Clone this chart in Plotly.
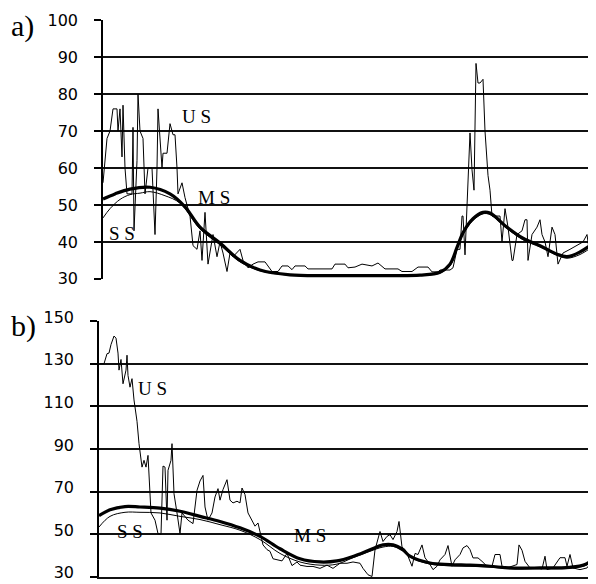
import plotly.graph_objects as go

# ---------------- panel a) ----------------
a_us_t = [0, 2, 3.5, 5, 7, 7.5, 8.5, 9.5, 10, 11, 12, 14.5, 15, 15.5, 17, 17.5, 18.5, 20, 21, 22.5,
          24.5, 25, 26, 27, 27.5, 29.5, 30, 32, 33.5, 35, 36, 37, 37.5, 39.5, 41, 43.5, 45, 47, 48.5, 49.5,
          51, 52.5, 55, 57, 58.5, 60, 62, 63.5, 65, 68.5, 70, 72.5, 75, 77.5, 81, 84.5, 87.5, 89.5, 92.5, 94.5,
          96, 101, 102.5, 107.5, 114.5, 116, 121, 122.5, 126, 129.5, 134.5, 137.5, 141, 147.5, 149.5, 154.5,
          157.5, 162.5, 164.5, 167.5, 168.5, 173.5, 175, 177, 178.5, 179.5, 180, 181, 182.5, 183.5, 184.5,
          185.5, 186.5, 187, 187.5, 188.5, 190, 191, 192.5, 193.5, 194.5, 196, 198.5, 199.5, 201, 202.5,
          204.5, 205, 207, 209.5, 211, 212, 212.5, 214.5, 217, 218.5, 219.5, 221, 222.5, 224.5, 226, 227.5,
          230, 233.5, 237, 240, 242, 243.5, 246]
a_us_v = [56, 68, 70, 76, 76, 70, 76, 63, 77, 60, 53, 53, 71, 43, 62, 80, 70, 68, 53, 60,
          60, 53, 42, 60, 76, 60, 64, 64, 72, 69, 69, 60, 53, 56, 52, 47, 39, 38, 43, 35,
          48, 34, 42, 36, 40, 37, 32, 37, 36, 38, 35, 33, 34, 34.6, 34.6, 32, 32, 33.5, 33.5, 32.5,
          33.5, 33.5, 32.7, 32.7, 32.7, 34, 34, 33, 33.2, 34, 33.5, 34.3, 32.7, 32.7, 32, 32,
          33.2, 33.2, 31.9, 31.9, 32.4, 32.4, 33, 38, 38, 47, 47, 36.5, 55, 69.5, 59.5,
          54, 88.3, 86, 83, 83, 84, 70, 58, 54, 47, 47, 47, 40, 49, 44,
          35, 35, 42, 43, 46, 46, 35, 42, 44, 46, 42, 40, 36, 44, 42, 34,
          37, 38, 39, 40, 42, 36, 32]

a_ms_t = [0, 6, 13.5, 23.5, 33.5, 41, 48.5, 58.5, 68.5, 78.5, 93.5, 113.5, 138.5, 158.5, 168.5,
          173.5, 177, 180, 185, 190, 193.5, 202, 210, 218.5, 227, 232, 238.5, 246]
a_ms_v = [51.6, 53, 54.3, 54.8, 53, 49.5, 44, 39.7, 35, 32.4, 31.1, 30.9, 30.9, 31, 31.8,
          34, 38.5, 42.5, 46.3, 48, 47.8, 44, 41, 39, 36.7, 36, 37.3, 40]

a_ss_t = [0, 3.5, 8.5, 13.5, 18.5, 23.5, 31, 38.5, 48.5, 58.5, 68.5, 78.5, 93.5, 113.5, 138.5,
          158.5, 168.5, 173.5, 177, 180, 185, 190, 193.5, 202, 210, 218.5, 227, 232, 238.5, 246]
a_ss_v = [46.5, 49, 51.5, 52.8, 53.2, 53.6, 52.5, 50.5, 43.5, 39.2, 34.6, 32.2, 31.0, 30.8, 30.8,
          30.9, 31.6, 33.5, 38, 42, 45.8, 47.6, 47.4, 43.6, 40.6, 38.6, 36.4, 35.6, 36.6, 39.2]

# ---------------- panel b) ----------------
b_us_t = [0.5, 2.5, 4, 5, 6, 7.5, 8.5, 9.5, 10, 11, 12, 13.5, 14, 14.5, 15.5, 16.5, 17.5, 19, 20, 21.5,
          22.5, 23.5, 24.5, 25, 26, 28, 29.5, 31, 32, 33, 34, 34.5, 36, 36.5, 37.5, 39, 40.5, 41.5, 43,
          44.5, 47, 49, 50.5, 52, 53, 54.5, 56.5, 58, 59.5, 60.5, 62, 64, 65.5, 67, 69, 70.5, 71.5, 73,
          74.5, 76.5, 78, 79.5, 80.5, 82, 84, 85.5, 87, 89, 91.5, 94, 96.5, 99, 100.5, 104, 107, 110.5,
          114, 117, 120.5, 124, 127, 130.5, 132, 134.5, 136.5, 138, 140.5, 142, 144, 145.5, 147, 149,
          150, 151.5, 153, 154.5, 156.5, 158, 159.5, 161.5, 163, 165.5, 167, 169, 170.5, 173, 174.5,
          176.5, 178, 180.5, 182, 184, 185.5, 187, 189.5, 191.5, 194, 196.5, 198, 200.5, 201.5, 204,
          207, 209, 210, 211.5, 213, 215.5, 219, 221.5, 223, 224, 227, 230.5, 233, 234, 235.5, 237,
          240.5, 244, 246.5, 248]
b_us_v = [130, 130, 134.7, 135, 139, 143, 142, 135, 127, 132, 120.6, 127, 134, 124.5, 119, 123, 113, 103, 92.5, 81.5,
          84.7, 81.5, 87, 77, 60, 56.6, 50.3, 50, 82, 81.5, 56.6, 80, 84.7, 92.5, 69, 60, 50.3, 60, 58,
          56.6, 55, 70.6, 75, 77.6, 62.8, 56.6, 60, 67.5, 71.4, 66, 71, 75.6, 66, 64.7, 65.5, 64.7, 71.7, 68.6,
          60, 56, 53.8, 55.3, 51.5, 45, 42.8, 42, 38.5, 38, 37.5, 41, 35.3, 37, 35.5, 34.9, 34.9, 34,
          35.5, 34, 36.4, 36.4, 37, 36.4, 34, 31, 30.2, 42.7, 51.3, 46.6, 49, 49.8, 47.5, 51.3,
          56, 44, 42.8, 39.7, 35, 41, 40.5, 45, 39, 35.8, 33.4, 35, 38, 40.5, 44.7,
          35, 38, 40.5, 43.6, 44.7, 42.8, 38.9, 38.9, 37.3, 35, 35, 40.5, 40.5, 35, 34.2,
          35, 35.8, 45, 42.5, 37.3, 34.2, 34.2, 33.7, 39.7, 33.4, 34.2, 39, 39, 35, 40.5, 34.2,
          33.4, 34.2, 37.3, 39]

b_ms_t = [0, 5.5, 13, 20.5, 30.5, 40.5, 50.5, 60.5, 70.5, 80.5, 90.5, 100.5, 110.5, 119, 127,
          135.5, 142, 147, 152, 155.5, 165.5, 175.5, 185.5, 195.5, 205.5, 220.5, 235.5, 243, 248]
b_ms_v = [58.7, 61.5, 63, 62.8, 62.3, 60.8, 58.4, 56, 53, 49, 43.2, 38.5, 37, 37.5, 39.6,
          42.7, 45, 45, 42.7, 39.7, 36.5, 35.8, 35.5, 35, 34.2, 34.2, 34.5, 35.8, 39]
b_ss_v = [53.4, 58.4, 60.3, 60.3, 60, 58.4, 56.9, 54.5, 51.9, 47.5, 41, 37, 35.5, 36, 39,
          42, 44, 44.3, 42.3, 39.3, 36, 35.2, 35, 34.6, 33.8, 33.8, 34, 35.2, 38]

a_ticks = [30, 40, 50, 60, 70, 80, 90, 100]
b_ticks = [30, 50, 70, 90, 110, 130, 150]

fig = go.Figure()
thin = dict(color="black", width=1)
thick = dict(color="black", width=3.2)

fig.add_trace(go.Scatter(x=a_us_t, y=a_us_v, mode="lines", line=thin, xaxis="x", yaxis="y"))
fig.add_trace(go.Scatter(x=a_ss_t, y=a_ss_v, mode="lines", line=thin, xaxis="x", yaxis="y", line_shape="spline"))
fig.add_trace(go.Scatter(x=a_ms_t, y=a_ms_v, mode="lines", line=thick, xaxis="x", yaxis="y", line_shape="spline"))

fig.add_trace(go.Scatter(x=b_us_t, y=b_us_v, mode="lines", line=thin, xaxis="x2", yaxis="y2"))
fig.add_trace(go.Scatter(x=b_ms_t, y=b_ss_v, mode="lines", line=thin, xaxis="x2", yaxis="y2", line_shape="spline"))
fig.add_trace(go.Scatter(x=b_ms_t, y=b_ms_v, mode="lines", line=thick, xaxis="x2", yaxis="y2", line_shape="spline"))

# page has an 8px body margin, so the figure is 8px smaller and positions are shifted by 8px
OFF = 8
W, H = 596 - OFF, 584 - OFF


def fx(px):
    return (px - OFF) / W


def fy(py):
    return 1 - (py - OFF) / H


tickfont = dict(family="DejaVu Sans", size=16, color="black")
common_y = dict(showgrid=True, gridcolor="#111", gridwidth=1.5, showline=True, linecolor="black",
                linewidth=1.5, ticks="outside", ticklen=7, tickwidth=1.5, tickcolor="black",
                tickfont=tickfont, ticklabelstandoff=13, zeroline=False, automargin=False,
                ticklabeloverflow="allow")
common_x = dict(showgrid=False, showticklabels=False, zeroline=False, ticks="", automargin=False)

fig.update_layout(
    width=W, height=H, margin=dict(l=0, r=0, t=0, b=0, autoexpand=False),
    paper_bgcolor="white", plot_bgcolor="white", showlegend=False,
    xaxis=dict(domain=[fx(103), min(1, fx(596))], range=[0, 246.5], anchor="y", showline=False, **common_x),
    yaxis=dict(domain=[fy(279), fy(20)], range=[29.97, 100.05], tickvals=a_ticks, anchor="x", **common_y),
    xaxis2=dict(domain=[fx(99), min(1, fx(595))], range=[0, 248], anchor="y2", showline=True,
                linecolor="#111", linewidth=1.5, **common_x),
    yaxis2=dict(domain=[fy(577), fy(321)], range=[29.95, 150.05], tickvals=b_ticks, anchor="x2",
                mirror=True, ticklabelshift=-4, **common_y),
)

lab = dict(family="Liberation Serif", size=19, color="black")
annos = [
    ("x", "y", 46.5, 74, "U S"), ("x", "y", 55.5, 51.9, "M S"), ("x", "y", 9.5, 42.2, "S S"),
    ("x2", "y2", 26.5, 118.6, "U S"), ("x2", "y2", 15.5, 51.1, "S S"), ("x2", "y2", 105.5, 49.2, "M S"),
]
for xr, yr, xv, yv, txt in annos:
    fig.add_annotation(x=xv, y=yv, xref=xr, yref=yr, text=txt, showarrow=False, font=lab,
                       bgcolor="rgba(0,0,0,0)")

panel_font = dict(family="Liberation Serif", size=30, color="black")
fig.add_annotation(x=fx(9), y=fy(26), xref="paper", yref="paper", text="a)", showarrow=False,
                   font=panel_font, xanchor="left", yanchor="middle")
fig.add_annotation(x=fx(9), y=fy(326), xref="paper", yref="paper", text="b)", showarrow=False,
                   font=panel_font, xanchor="left", yanchor="middle")

fig.write_html("out.html")
